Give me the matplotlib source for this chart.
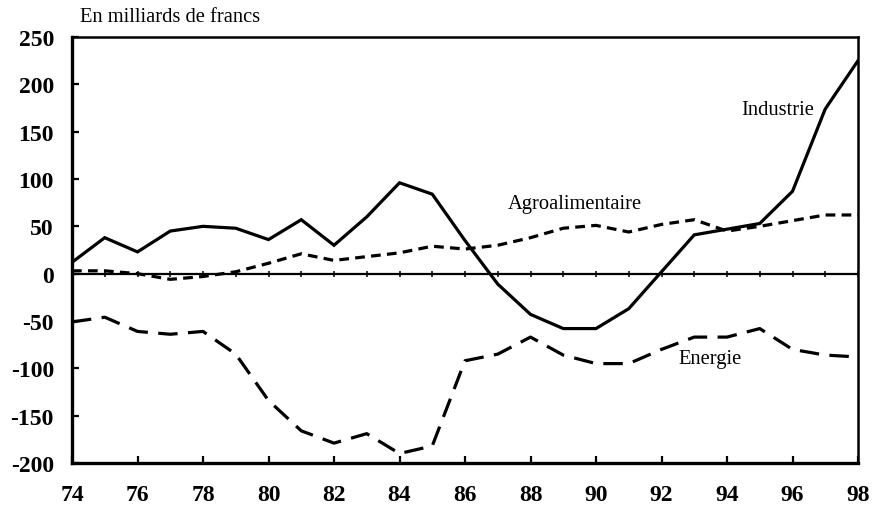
import matplotlib
matplotlib.use("Agg")
import matplotlib.pyplot as plt

years = list(range(74, 99))
industrie = [12, 38, 23, 45, 50, 48, 36, 57, 30, 60, 96, 84, 35, -11, -43, -58, -58, -37, 2, 41, 47, 53, 87, 174, 225]
agro = [3, 3, 0, -6, -3, 2, 11, 21, 14, 18, 22, 29, 26, 30, 38, 48, 51, 44, 52, 57, 45, 50, 56, 62, 62]
energie = [-51, -46, -61, -64, -61, -85, -134, -166, -179, -169, -190, -182, -92, -85, -67, -86, -95, -95, -80, -67, -67, -58, -80, -86, -88]

yticks = [250, 200, 150, 100, 50, 0, -50, -100, -150, -200]
xticks = list(range(74, 99, 2))
xlabels = [str(v) for v in xticks]

plt.rcParams['lines.scale_dashes'] = False
serif = ['Liberation Serif', 'DejaVu Serif']

fig = plt.figure(figsize=(8.72, 5.06), dpi=100)
ax = fig.add_axes([72/872, 1-464/506, (858-72)/872, (464-38)/506])

ax.axhline(0, color='black', lw=1.6, zorder=1)
ax.plot(years, [0]*len(years), linestyle='none', marker='|', ms=4, mew=1.1, color='black', zorder=1)

ax.plot(years, industrie, color='black', lw=2.3, solid_joinstyle='miter', zorder=3)
ax.plot(years, agro, color='black', lw=2.3, dashes=(7, 4.5), zorder=3)
ax.plot(years, energie, color='black', lw=2.3, dashes=(14, 7.5), zorder=3)

ax.set_xlim(74, 98)
ax.set_ylim(-200, 250)
ax.set_xticks(xticks)
ax.set_xticklabels(xlabels)
ax.set_yticks(yticks)
ax.set_yticklabels([str(v) for v in yticks])
ax.tick_params(axis='both', direction='in', length=5, width=1.6, labelsize=17)
ax.tick_params(axis='x', pad=15)
ax.tick_params(axis='y', pad=13)
for lab in ax.get_xticklabels() + ax.get_yticklabels():
    lab.set_family(serif)
    lab.set_fontweight('bold')

ax.spines['left'].set_linewidth(2.4)
ax.spines['bottom'].set_linewidth(2.4)
ax.spines['top'].set_linewidth(1.8)
ax.spines['right'].set_linewidth(1.8)

fig.text(80/872, 1-17/506, "En milliards de francs", family=serif, fontsize=14.8, va='center', ha='left')
ax.text(87.3, 74, "Agroalimentaire", family=serif, fontsize=14.8, va='center', ha='left')
ax.text(94.43, 173, "Industrie", family=serif, fontsize=14.8, va='center', ha='left')
ax.text(92.53, -90, "Energie", family=serif, fontsize=14.8, va='center', ha='left')

fig.savefig("out.png", dpi=100)
